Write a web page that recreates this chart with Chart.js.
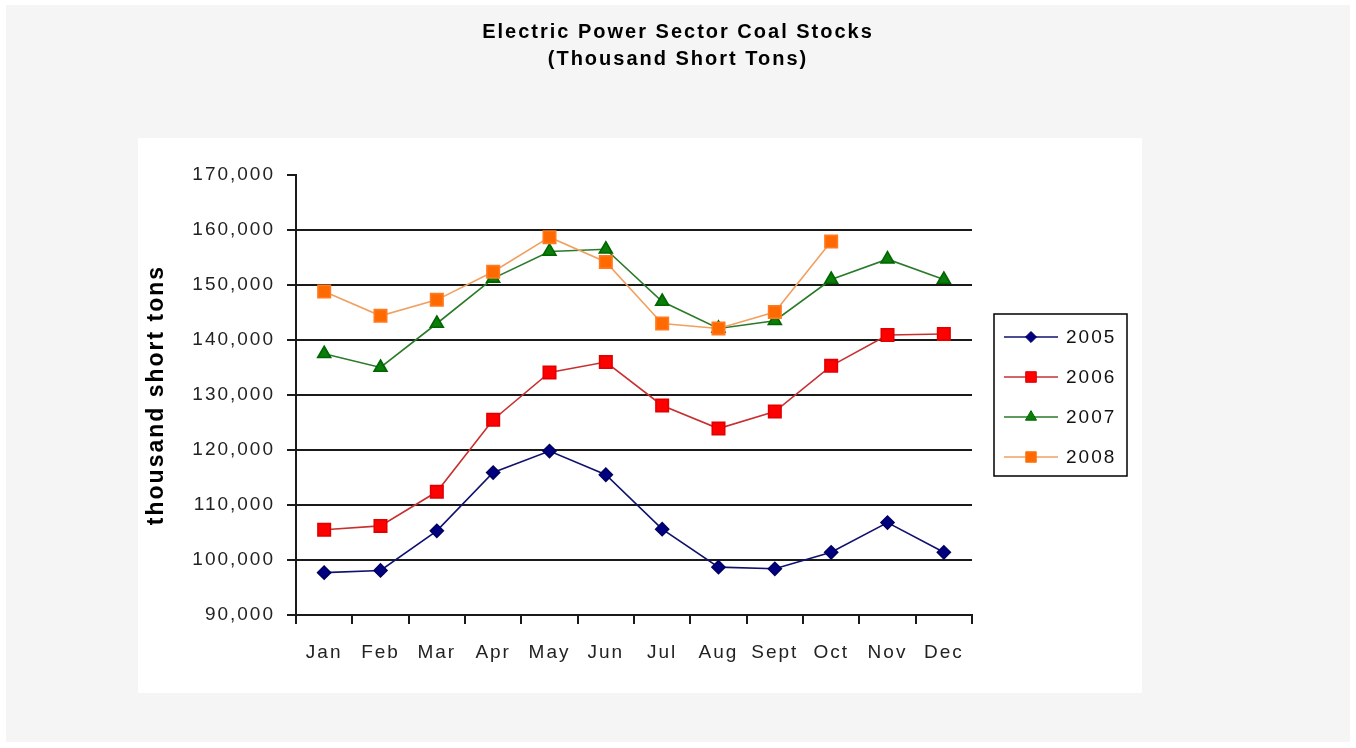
<!DOCTYPE html>
<html>
<head>
<meta charset="utf-8">
<script src="https://cdn.jsdelivr.net/npm/chart.js@4.4.0/dist/chart.umd.min.js"></script>
<style>
  html, body { margin: 0; padding: 0; background: #ffffff; }
  canvas { display: block; }
</style>
</head>
<body>
<canvas id="c" width="1356" height="748"></canvas>
<script>
// ---- data ----
const months = ['Jan', 'Feb', 'Mar', 'Apr', 'May', 'Jun', 'Jul', 'Aug', 'Sept', 'Oct', 'Nov', 'Dec'];
const stocks2005 = [97700, 98100, 105300, 115900, 119800, 115500, 105600, 98700, 98400, 101400, 106800, 101400];
const stocks2006 = [105500, 106200, 112400, 125500, 134100, 136000, 128100, 123900, 127000, 135300, 140900, 141100];
const stocks2007 = [137500, 135000, 143000, 151200, 156100, 156500, 147000, 142100, 143500, 151000, 154700, 151000];
const stocks2008 = [148800, 144400, 147300, 152400, 158700, 154200, 143000, 142100, 145100, 157900, null, null];
const seriesNames = ['2005', '2006', '2007', '2008'];
const yMin = 90000, yMax = 170000, yStep = 10000;
const chartTitle = ['Electric Power Sector Coal Stocks', '(Thousand Short Tons)'];
const yAxisTitle = 'thousand short tons';

const FONT = "'Liberation Sans', Arial, sans-serif";
const SPACING = '2px';

const spacingPlugin = {
  id: 'spacing',
  beforeUpdate(chart) { try { chart.ctx.letterSpacing = SPACING; } catch (e) {} },
  beforeDraw(chart) {
    const ctx = chart.ctx;
    try { ctx.letterSpacing = SPACING; } catch (e) {}
    ctx.save();
    ctx.fillStyle = '#ffffff';
    ctx.fillRect(0, 0, chart.width, chart.height);
    ctx.fillStyle = '#f5f5f5';
    ctx.fillRect(6, 5, 1344, 737);
    ctx.fillStyle = '#ffffff';
    ctx.fillRect(138, 138, 1004, 555);
    ctx.restore();
  }
};

const legendPlugin = {
  id: 'boxLegend',
  afterDraw(chart) {
    const ctx = chart.ctx;
    ctx.save();
    try { ctx.letterSpacing = SPACING; } catch (e) {}
    ctx.strokeStyle = '#000';
    ctx.lineWidth = 1.5;
    ctx.strokeRect(994, 314, 133, 162);
    chart.data.datasets.forEach((ds, i) => {
      const y = 337 + 40 * i;
      ctx.strokeStyle = ds.borderColor;
      ctx.lineWidth = 1.5;
      ctx.beginPath();
      ctx.moveTo(1004, y);
      ctx.lineTo(1058, y);
      ctx.stroke();
      ctx.fillStyle = ds.pointBackgroundColor;
      ctx.strokeStyle = ds.pointBorderColor;
      ctx.lineWidth = 1;
      Chart.helpers.drawPoint(ctx, {
        pointStyle: ds.pointStyle,
        radius: ds.pointRadius * 0.85,
        rotation: 0,
        borderWidth: 1
      }, 1031, y);
      ctx.fillStyle = '#111';
      ctx.font = '19px ' + FONT;
      ctx.textBaseline = 'middle';
      ctx.textAlign = 'left';
      ctx.fillText(ds.label, 1066, y + 1);
    });
    ctx.restore();
  }
};

const tickFont = { family: FONT, size: 19 };

new Chart(document.getElementById('c'), {
  type: 'line',
  data: {
    labels: months,
    datasets: [
      { label: seriesNames[0], data: stocks2005, borderColor: '#10106e', backgroundColor: '#000080',
        pointBackgroundColor: '#000080', pointBorderColor: '#000060', pointStyle: 'rectRot', pointRadius: 6.5,
        borderWidth: 1.6, order: 4 },
      { label: seriesNames[1], data: stocks2006, borderColor: '#c83030', backgroundColor: '#ff0000',
        pointBackgroundColor: '#ff0000', pointBorderColor: '#e00000', pointStyle: 'rect', pointRadius: 8.8,
        borderWidth: 1.6, order: 3 },
      { label: seriesNames[2], data: stocks2007, borderColor: '#2a7a2a', backgroundColor: '#008000',
        pointBackgroundColor: '#0a7d0a', pointBorderColor: '#006600', pointStyle: 'triangle', pointRadius: 7.5,
        borderWidth: 1.6, order: 2 },
      { label: seriesNames[3], data: stocks2008, borderColor: '#f0a060', backgroundColor: '#ff6600',
        pointBackgroundColor: '#ff6a00', pointBorderColor: '#ff7a20', pointStyle: 'rect', pointRadius: 8.8,
        borderWidth: 1.6, order: 1 }
    ]
  },
  options: {
    responsive: false,
    animation: false,
    layout: { padding: 0 },
    plugins: {
      legend: { display: false },
      tooltip: { enabled: false },
      title: {
        display: true,
        text: chartTitle,
        color: '#000',
        font: { family: FONT, size: 20, weight: 'bold', lineHeight: '27px' },
        padding: { top: 19, bottom: 102 }
      }
    },
    scales: {
      x: {
        type: 'category',
        offset: true,
        grid: { offset: true, drawOnChartArea: false, color: '#1a1a1a', tickColor: '#1a1a1a', tickLength: 9, lineWidth: 2 },
        border: { display: true, color: '#1a1a1a', width: 2 },
        ticks: { color: '#222', font: tickFont, padding: 17, maxRotation: 0, autoSkip: false },
        afterFit(s) { s.height = 133; }
      },
      y: {
        position: 'left',
        min: yMin, max: yMax,
        ticks: { stepSize: yStep, color: '#222', font: tickFont, padding: 12,
                 callback: v => Number(v).toLocaleString('en-US') },
        grid: {
          color: c => (c.tick && c.tick.value === yMax) ? 'rgba(0,0,0,0)' : '#1a1a1a',
          tickColor: '#1a1a1a', lineWidth: 2, tickLength: 9
        },
        border: { display: true, color: '#1a1a1a', width: 2 },
        title: { display: true, text: yAxisTitle, color: '#000',
                 font: { family: FONT, size: 23, weight: 'bold' }, padding: { top: 143, bottom: 0 } },
        afterFit(s) { s.width = 296; }
      },
      yRight: {
        position: 'right',
        display: true,
        grid: { display: false },
        border: { display: false },
        ticks: { display: false },
        afterFit(s) { s.width = 384; }
      }
    }
  },
  plugins: [spacingPlugin, legendPlugin]
});
</script>
</body>
</html>
